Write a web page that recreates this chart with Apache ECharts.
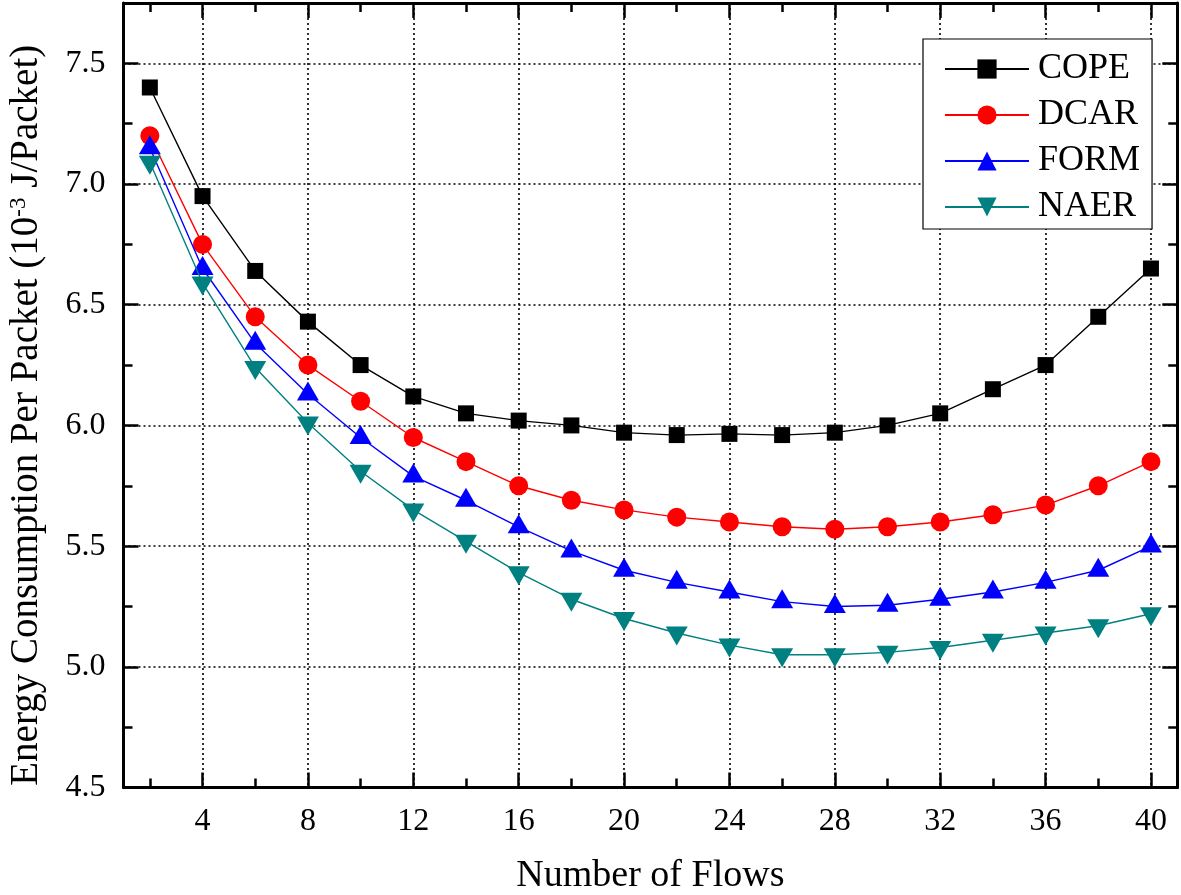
<!DOCTYPE html>
<html>
<head>
<meta charset="utf-8">
<script src="https://cdn.jsdelivr.net/npm/echarts@6/dist/echarts.min.js"></script>
<style>
html,body{margin:0;padding:0;background:#fff;}
#chart{width:1181px;height:895px;}
</style>
</head>
<body>
<div id="chart"></div>
<script>
// ---- data ----
var flows = [2, 4, 6, 8, 10, 12, 14, 16, 18, 20, 22, 24, 26, 28, 30, 32, 34, 36, 38, 40];
var COPE = [7.40, 6.95, 6.64, 6.43, 6.25, 6.12, 6.05, 6.02, 6.00, 5.97, 5.96, 5.965, 5.96, 5.97, 6.00, 6.05, 6.15, 6.25, 6.45, 6.65];
var DCAR = [7.20, 6.75, 6.45, 6.25, 6.10, 5.95, 5.85, 5.75, 5.69, 5.65, 5.62, 5.60, 5.58, 5.57, 5.58, 5.60, 5.63, 5.67, 5.75, 5.85];
var FORM = [7.15, 6.65, 6.34, 6.13, 5.95, 5.79, 5.69, 5.58, 5.48, 5.40, 5.35, 5.31, 5.27, 5.25, 5.255, 5.28, 5.31, 5.35, 5.40, 5.50];
var NAER = [7.09, 6.59, 6.24, 6.01, 5.81, 5.65, 5.52, 5.39, 5.28, 5.20, 5.14, 5.09, 5.05, 5.05, 5.06, 5.08, 5.11, 5.14, 5.17, 5.22];
var seriesNames = ['COPE', 'DCAR', 'FORM', 'NAER'];
var xTicks = [4, 8, 12, 16, 20, 24, 28, 32, 36, 40];
var xMinorTicks = [2, 6, 10, 14, 18, 22, 26, 30, 34, 38];
var yTicks = [4.5, 5.0, 5.5, 6.0, 6.5, 7.0, 7.5];
var yMinorTicks = [4.75, 5.25, 5.75, 6.25, 6.75, 7.25];
var xTitle = 'Number of Flows';
var yTitleMain = 'Energy Consumption Per Packet (10';
var yTitleSup = '-3';
var yTitleEnd = ' J/Packet)';

// ---- styling ----
var FONT = "'Liberation Serif', 'Times New Roman', 'DejaVu Serif', serif";
var X_MIN = 1, X_MAX = 41, Y_MIN = 4.5, Y_MAX = 7.75;

function pairs(ys) { return flows.map(function (x, i) { return [x, ys[i]]; }); }

function xAxisDef(pos, ticks, len, major) {
  return {
    type: 'value', min: X_MIN, max: X_MAX, position: pos,
    axisLine: { show: major, onZero: false, lineStyle: { color: '#000', width: 3 } },
    axisTick: { show: true, inside: true, length: len, customValues: ticks, lineStyle: { color: '#000', width: 2.5 } },
    axisLabel: (major && pos === 'bottom') ? {
      show: true, customValues: ticks, margin: 18, fontSize: 32, fontFamily: FONT, color: '#000'
    } : { show: false },
    splitLine: (major && pos === 'bottom') ? { show: true, lineStyle: { color: '#000', width: 1.6, type: [2, 3] } } : { show: false }
  };
}
function yAxisDef(pos, ticks, len, major) {
  return {
    type: 'value', min: Y_MIN, max: Y_MAX, position: pos,
    axisLine: { show: major, onZero: false, lineStyle: { color: '#000', width: 3 } },
    axisTick: { show: true, inside: true, length: len, customValues: ticks, lineStyle: { color: '#000', width: 2.5 } },
    axisLabel: (major && pos === 'left') ? {
      show: true, customValues: ticks, margin: 18, fontSize: 32, fontFamily: FONT, color: '#000',
      formatter: function (v) { return v.toFixed(1); }
    } : { show: false },
    splitLine: (major && pos === 'left') ? { show: true, lineStyle: { color: '#000', width: 1.6, type: [2, 3] } } : { show: false }
  };
}

var xAxes = [
  xAxisDef('bottom', xTicks, 15, true),
  xAxisDef('top', xTicks, 15, true),
  xAxisDef('bottom', xMinorTicks, 9, false),
  xAxisDef('top', xMinorTicks, 9, false)
];
xAxes[0].name = xTitle;
xAxes[0].nameLocation = 'middle';
xAxes[0].nameGap = 70;
xAxes[0].nameTextStyle = { fontSize: 38, fontFamily: FONT, color: '#000' };

var yAxes = [
  yAxisDef('left', yTicks, 15, true),
  yAxisDef('right', yTicks, 15, true),
  yAxisDef('left', yMinorTicks, 9, false),
  yAxisDef('right', yMinorTicks, 9, false)
];
yAxes[0].name = '{a|' + yTitleMain + '}{s|' + yTitleSup + '}{a|' + yTitleEnd + '}';
yAxes[0].nameLocation = 'middle';
yAxes[0].nameGap = 77;
yAxes[0].nameTextStyle = {
  fontSize: 39, fontFamily: FONT, color: '#000', padding: [0, 40, 0, 0],
  rich: {
    a: { fontSize: 39, fontFamily: FONT, color: '#000', lineHeight: 39 },
    s: { fontSize: 23, fontFamily: FONT, color: '#000', lineHeight: 23, verticalAlign: 'top' }
  }
};

var DOWN_TRI = 'path://M0,0L20,0L10,17.3Z';
var styles = [
  { color: '#000000', symbol: 'rect', size: 16, offset: [0, 0] },
  { color: '#ff0000', symbol: 'circle', size: 19, offset: [0, 0] },
  { color: '#0000ff', symbol: 'triangle', size: [22, 19], offset: [0, -3] },
  { color: '#008080', symbol: DOWN_TRI, size: [22, 19], offset: [0, 3] }
];
var values = [COPE, DCAR, FORM, NAER];

var series = seriesNames.map(function (name, i) {
  var s = styles[i];
  return {
    name: name, type: 'line', xAxisIndex: 0, yAxisIndex: 0,
    data: pairs(values[i]),
    symbol: s.symbol, symbolSize: s.size, symbolOffset: s.offset,
    showAllSymbol: true,
    lineStyle: { color: s.color, width: 1.4 },
    itemStyle: { color: s.color, borderWidth: 0 },
    emphasis: { disabled: true },
    z: 3 + i
  };
});

var chart = echarts.init(document.getElementById('chart'), null, { renderer: 'canvas' });
chart.setOption({
  animation: false,
  backgroundColor: '#fff',
  grid: { left: 123.5, right: 3.7, top: 3, bottom: 107.5, containLabel: false, outerBoundsMode: 'none' },
  xAxis: xAxes,
  yAxis: yAxes,
  legend: {
    orient: 'vertical', left: 923, top: 39,
    padding: [12, 12, 4, 21],
    itemWidth: 84, itemHeight: 24, itemGap: 10,
    backgroundColor: '#fff', borderColor: '#000', borderWidth: 1.2,
    textStyle: { fontSize: 36, fontFamily: FONT, color: '#000', lineHeight: 36, padding: [0, 0, 0, 4] },
    data: seriesNames
  },
  series: series
});
</script>
</body>
</html>
